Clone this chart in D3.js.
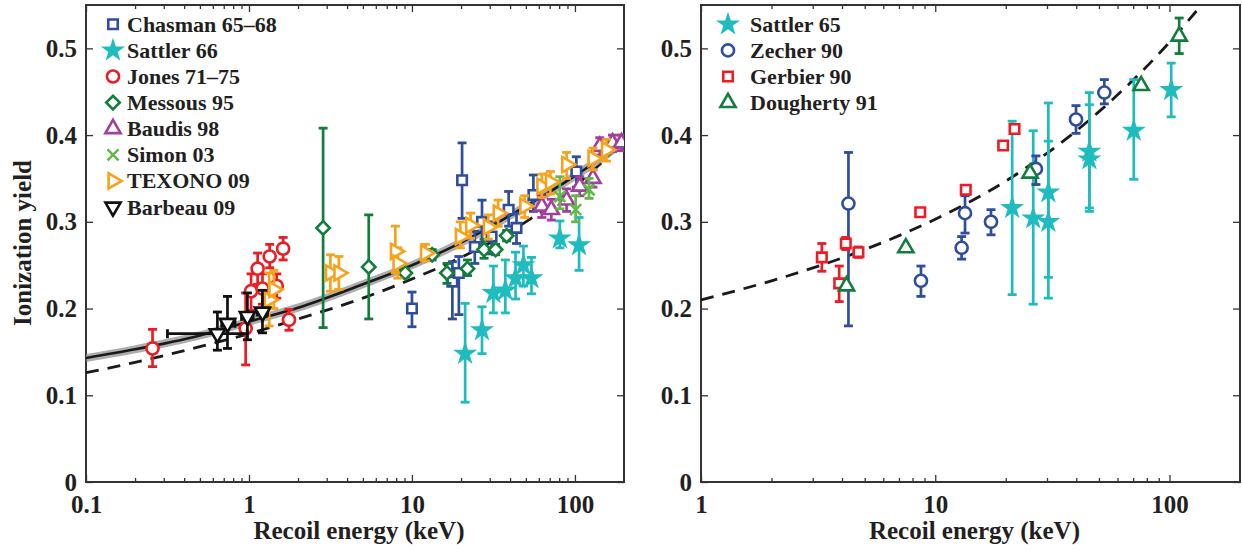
<!DOCTYPE html>
<html>
<head>
<meta charset="utf-8">
<script src="https://cdn.jsdelivr.net/npm/d3@7"></script>
<style>
  body { margin: 0; background: #fff; }
  svg text { font-family: "Liberation Serif", "Times New Roman", Times, serif; font-weight: bold; fill: #231f20; }
</style>
</head>
<body>
<svg id="chart" width="1242" height="550"></svg>
<script>
// ---- data: [energy keV, yield, low, high] ----
const chasman = [[10.0,0.200,0.179,0.219],[17.7,0.231,0.188,0.254],[19.4,0.241,0.193,0.260],[20.3,0.348,0.304,0.391],
  [24.3,0.271,0.252,0.289],[26.9,0.300,0.272,0.325],[30.8,0.283,0.263,0.300],[39.2,0.314,0.295,0.335],[43.8,0.293,0.275,0.310],
  [55.6,0.331,0.312,0.354],[102,0.358,0.340,0.375]];
const sattler66 = [[21.2,0.148,0.092,0.206],[26.9,0.175,0.148,0.202],[31.6,0.218,0.195,0.249],[37.4,0.221,0.195,0.256],
  [43.2,0.235,0.211,0.265],[48.3,0.250,0.226,0.272],[54.1,0.235,0.217,0.259],[80.8,0.281,0.270,0.301],[106,0.273,0.244,0.305]];
const jones = [[0.256,0.154,0.133,0.176],[0.954,0.177,0.135,0.218],[1.03,0.220,0.198,0.240],[1.13,0.246,0.228,0.264],
  [1.21,0.223,0.205,0.240],[1.34,0.260,0.247,0.274],[1.48,0.226,0.212,0.240],[1.62,0.269,0.256,0.282],[1.76,0.187,0.175,0.199]];
const messous = [[2.85,0.293,0.178,0.408],[5.43,0.248,0.188,0.308],[9.1,0.241,0.236,0.246],[13.3,0.262,0.256,0.268],
  [16.4,0.241,0.229,0.252],[21.9,0.246,0.238,0.256],[27.7,0.268,0.258,0.280],[32.6,0.268,0.262,0.274],[38.1,0.284,0.278,0.290]];
const baudis = [[62.6,0.318,0.305,0.330],[71.6,0.314,0.302,0.326],[88.9,0.325,0.312,0.338],[107,0.341,0.330,0.352],
  [129,0.350,0.340,0.360],[142,0.387,0.377,0.397],[170,0.391,0.381,0.400],[193,0.391,0.382,0.400]];
const simon = [[80.8,0.329,0.315,0.352],[101,0.314,0.300,0.330],[122,0.337,0.327,0.350]];
const texono = [[1.33,0.210,0.180,0.241],[1.42,0.222,0.200,0.244],[3.16,0.241,0.220,0.262],[3.56,0.241,0.222,0.260],
  [7.91,0.266,0.241,0.295],[8.2,0.252,0.235,0.270],[12.1,0.264,0.255,0.274],[19.8,0.283,0.270,0.300],[22.9,0.296,0.281,0.310],
  [29.4,0.294,0.280,0.308],[33.8,0.310,0.295,0.325],[49.2,0.318,0.305,0.330],[62.6,0.341,0.328,0.355],[70.7,0.346,0.332,0.358],
  [88.9,0.366,0.350,0.380],[129,0.373,0.360,0.385],[156,0.383,0.370,0.395]];
// Barbeau also has horizontal errors: [E, Y, low, high, Elow, Ehigh]
const barbeau = [[0.64,0.171,0.152,0.196,0.316,0.975],[0.738,0.183,0.154,0.214,0.68,0.82],
  [0.978,0.191,0.164,0.218,0.90,1.06],[1.21,0.196,0.172,0.221,1.12,1.30]];

const sattler65 = [[21.3,0.316,0.216,0.416],[26.2,0.304,0.205,0.405],[30.4,0.334,0.212,0.437],[30.4,0.300,0.236,0.393],
  [45.5,0.381,0.316,0.449],[45.5,0.372,0.312,0.435],[70.4,0.405,0.349,0.464],[101.7,0.452,0.421,0.483]];
const zecher = [[4.26,0.321,0.180,0.380],[8.69,0.232,0.214,0.249],[12.96,0.270,0.257,0.283],[13.4,0.310,0.287,0.330],
  [17.3,0.300,0.285,0.314],[26.9,0.361,0.343,0.376],[39.9,0.418,0.402,0.434],[52.7,0.449,0.436,0.464]];
const gerbier = [[3.28,0.259,0.243,0.275],[3.89,0.229,0.208,0.249],[4.15,0.275,0.268,0.282],[4.70,0.265,0.259,0.271],
  [8.63,0.311,0.308,0.314],[13.5,0.337,0.332,0.342],[19.5,0.388,0.384,0.392],[21.8,0.407,0.403,0.411]];
const dougherty = [[4.18,0.226,0.226,0.226],[7.49,0.270,0.270,0.270],[25.4,0.356,0.356,0.356],[75.7,0.457,0.457,0.457],
  [110,0.514,0.494,0.535]];

// model curves
const fitE = [0.1, 0.2, 0.5, 1, 2, 5, 10, 20, 50, 100, 200];
const fitSolid = [0.143, 0.153, 0.169, 0.185, 0.201, 0.228, 0.250, 0.276, 0.318, 0.353, 0.392];
const fitDash = [0.126, 0.138, 0.156, 0.171, 0.188, 0.212, 0.234, 0.259, 0.300, 0.341, 0.393];
const siE = [1, 2, 5, 10, 20, 50, 100, 137];
const siDash = [0.210, 0.232, 0.268, 0.303, 0.347, 0.427, 0.507, 0.550];

const yTicks = [0, 0.1, 0.2, 0.3, 0.4, 0.5];

const svg = d3.select('#chart');
const plotTop = 5, plotBottom = 482;
const ink = '#333';
const serif = '"Liberation Serif", "Times New Roman", Times, serif';

const y = d3.scaleLinear().domain([0, 0.55]).range([plotBottom, plotTop]);

function symbolFor(kind) {
    if (kind == 'x') return 'M-5.5,-5.5L5.5,5.5M-5.5,5.5L5.5,-5.5';
    let t = {square: d3.symbolSquare, star: d3.symbolStar, circle: d3.symbolCircle,
        diamond: d3.symbolSquare, tri: d3.symbolTriangle}[kind];
    let s = {square: 90, star: 180, circle: 115, diamond: 90, tri: 100}[kind];
    return d3.symbol(t, s)();
}
function rotFor(kind, dir) {
    if (kind == 'diamond') return 45;
    if (dir == 'right') return 90;
    if (dir == 'down') return 180;
    return 0;
}

function drawPanel(g, x, xMajors, xMinors, series, curves, legendX, labelText) {
    let clipId = 'clip' + Math.round(x.range()[0]);
    g.append('clipPath').attr('id', clipId).append('rect')
        .attr('x', x.range()[0]).attr('y', plotTop).attr('width', x.range()[1] - x.range()[0]).attr('height', plotBottom - plotTop);

    // axes, ticks inward
    let ax = g.append('g').attr('class', 'axes');
    ax.append('g').attr('transform', `translate(0,${plotBottom})`)
        .call(d3.axisBottom(x).tickValues(xMajors).tickSize(-7).tickPadding(13).tickFormat(d => String(d)));
    ax.append('g').attr('transform', `translate(0,${plotBottom})`)
        .call(d3.axisBottom(x).tickValues(xMinors).tickSize(-4).tickFormat(''));
    ax.append('g').attr('transform', `translate(0,${plotTop})`)
        .call(d3.axisTop(x).tickValues(xMajors).tickSize(-7).tickFormat(''));
    ax.append('g').attr('transform', `translate(0,${plotTop})`)
        .call(d3.axisTop(x).tickValues(xMinors).tickSize(-4).tickFormat(''));
    ax.append('g').attr('transform', `translate(${x.range()[0]},0)`)
        .call(d3.axisLeft(y).tickValues(yTicks).tickSize(-7).tickPadding(9).tickFormat(d => d == 0 ? '0' : d3.format('.1f')(d)));
    ax.append('g').attr('transform', `translate(${x.range()[1]},0)`)
        .call(d3.axisRight(y).tickValues(yTicks).tickSize(-7).tickFormat(''));
    ax.selectAll('.domain').remove();
    ax.attr('font-family', serif);
    ax.selectAll('g').attr('font-family', serif);
    ax.selectAll('line').attr('stroke', ink).attr('stroke-width', 1.3);
    ax.selectAll('text').attr('font-size', 25).attr('fill', '#231f20')
        .attr('font-family', serif).attr('font-weight', 'bold');
    g.append('rect').attr('x', x.range()[0]).attr('y', plotTop)
        .attr('width', x.range()[1] - x.range()[0]).attr('height', plotBottom - plotTop)
        .attr('fill', 'none').attr('stroke', ink).attr('stroke-width', 2);

    // curves
    let cg = g.append('g').attr('clip-path', `url(#${clipId})`);
    curves.forEach(function(c) {
        let line = d3.line().x(d => x(d[0])).y(d => y(d[1])).curve(d3.curveMonotoneX);
        let pts = c.e.map((e, i) => [e, c.v[i]]);
        if (c.band) {
            cg.append('path').attr('d', line(pts)).attr('fill', 'none')
                .attr('stroke', '#9a9a9a').attr('stroke-width', 8).attr('opacity', 0.8);
        }
        cg.append('path').attr('d', line(pts)).attr('fill', 'none')
            .attr('stroke', '#1a1a1a').attr('stroke-width', c.dash ? 2.8 : 2.6)
            .attr('stroke-dasharray', c.dash ? '13,9' : null);
    });

    // points
    series.forEach(function(s) {
        let sg = g.append('g').attr('clip-path', `url(#${clipId})`);
        s.data.forEach(function(d) {
            let px = x(d[0]);
            let eg = sg.append('g').attr('stroke', s.color).attr('stroke-width', 2.7);
            if (d[2] != d[3]) {
                eg.append('line').attr('x1', px).attr('x2', px).attr('y1', y(d[2])).attr('y2', y(d[3]));
                [d[2], d[3]].forEach(v => eg.append('line').attr('x1', px - 4.5).attr('x2', px + 4.5)
                    .attr('y1', y(v)).attr('y2', y(v)).attr('stroke-width', 2.8));
            }
            if (d.length > 4) {
                let py = y(d[1]);
                eg.append('line').attr('x1', x(d[4])).attr('x2', x(d[5])).attr('y1', py).attr('y2', py);
                [d[4], d[5]].forEach(v => eg.append('line').attr('x1', x(v)).attr('x2', x(v))
                    .attr('y1', py - 4.5).attr('y2', py + 4.5).attr('stroke-width', 2.8));
            }
        });
        sg.selectAll('path.mk').data(s.data).enter().append('path').attr('class', 'mk')
            .attr('d', symbolFor(s.kind))
            .attr('transform', d => `translate(${x(d[0])},${y(d[1])}) rotate(${rotFor(s.kind, s.dir)})`)
            .attr('fill', s.kind == 'star' ? s.color : (s.kind == 'x' ? 'none' : '#fff'))
            .attr('stroke', s.color).attr('stroke-width', s.kind == 'star' ? 0 : 2.6);
    });

    // legend
    let lg = g.append('g');
    series.forEach(function(s, i) {
        let cy = 24.3 + 26.1 * i;
        lg.append('path').attr('d', symbolFor(s.kind))
            .attr('transform', `translate(${legendX},${cy}) rotate(${rotFor(s.kind, s.dir)})`)
            .attr('fill', s.kind == 'star' ? s.color : 'none')
            .attr('stroke', s.color).attr('stroke-width', s.kind == 'star' ? 0 : 2.6);
        lg.append('text').attr('x', legendX + (s.legendGap || 14)).attr('y', cy + 7.5)
            .attr('font-family', serif).attr('font-size', 22).text(s.name);
    });

    g.append('text').attr('x', (x.range()[0] + x.range()[1]) / 2 + 4).attr('y', 539)
        .attr('font-family', serif).attr('text-anchor', 'middle').attr('font-size', 25).text(labelText);
}

// left panel
const xL = d3.scaleLog().domain([0.1, 200]).range([86, 624]);
const minorsL = [0.2,0.3,0.4,0.5,0.6,0.7,0.8,0.9,2,3,4,5,6,7,8,9,20,30,40,50,60,70,80,90];
drawPanel(svg.append('g'), xL, [0.1, 1, 10, 100], minorsL, [
    {name: 'Chasman 65\u201368', data: chasman, kind: 'square', color: '#2f4d9e'},
    {name: 'Sattler 66', data: sattler66, kind: 'star', color: '#1fbcbf'},
    {name: 'Jones 71\u201375', data: jones, kind: 'circle', color: '#ec1c24'},
    {name: 'Messous 95', data: messous, kind: 'diamond', color: '#127d3c'},
    {name: 'Baudis 98', data: baudis, kind: 'tri', color: '#a23f9c'},
    {name: 'Simon 03', data: simon, kind: 'x', color: '#62b84a'},
    {name: 'TEXONO 09', data: texono, kind: 'tri', dir: 'right', color: '#f7a21b'},
    {name: 'Barbeau 09', data: barbeau, kind: 'tri', dir: 'down', color: '#111'}
], [
    {e: fitE, v: fitDash, dash: true},
    {e: fitE, v: fitSolid, band: true}
], 113, 'Recoil energy (keV)');

// right panel
const xR = d3.scaleLog().domain([1, 200]).range([701, 1240]);
const minorsR = [2,3,4,5,6,7,8,9,20,30,40,50,60,70,80,90];
drawPanel(svg.append('g'), xR, [1, 10, 100], minorsR, [
    {name: 'Sattler 65', data: sattler65, kind: 'star', color: '#1fbcbf', legendGap: 22},
    {name: 'Zecher 90', data: zecher, kind: 'circle', color: '#2f4d9e', legendGap: 22},
    {name: 'Gerbier 90', data: gerbier, kind: 'square', color: '#ec1c24', legendGap: 22},
    {name: 'Dougherty 91', data: dougherty, kind: 'tri', color: '#127d3c', legendGap: 22}
], [
    {e: siE, v: siDash, dash: true}
], 728, 'Recoil energy (keV)');

// y label
svg.append('text').attr('transform', 'translate(31,243) rotate(-90)').attr('font-family', serif)
    .attr('text-anchor', 'middle').attr('font-size', 25).text('Ionization yield');
</script>
</body>
</html>
